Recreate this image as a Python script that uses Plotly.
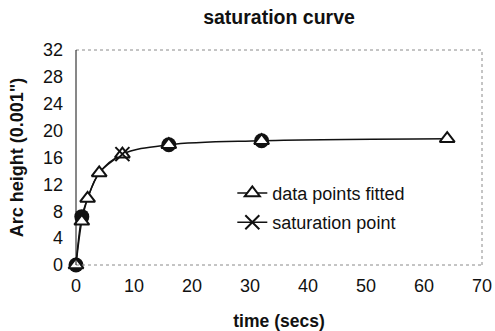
import plotly.graph_objects as go

# Data
TIME = [0, 1, 2, 4, 8, 16, 32, 64]
ARC = [0, 6.5, 9.9, 13.7, 16.5, 17.9, 18.5, 18.8]

# approach to the saturation point
SAT_PATH_X = [0, 1, 2, 4, 8]
SAT_PATH_Y = [0, 7.2, 9.9, 13.7, 16.5]
SAT_X = [8]
SAT_Y = [16.5]

# heavy (overlapping) markers seen on the scan
BLOB_X = [0, 1, 16, 32]
BLOB_Y = [0, 7.2, 17.9, 18.5]

X_TICKS = [0, 10, 20, 30, 40, 50, 60, 70]
Y_TICKS = [0, 4, 8, 12, 16, 20, 24, 28, 32]

FONT = "Liberation Sans, Arial, sans-serif"
INK = "#111111"

fig = go.Figure()

fig.add_trace(go.Scatter(
    x=SAT_PATH_X, y=SAT_PATH_Y, mode="lines",
    line=dict(color=INK, width=1.4, shape="spline"),
    showlegend=False, hoverinfo="skip", cliponaxis=False))

fig.add_trace(go.Scatter(
    x=BLOB_X, y=BLOB_Y, mode="markers",
    marker=dict(symbol="circle", size=15, color=INK),
    showlegend=False, hoverinfo="skip", cliponaxis=False))

fig.add_trace(go.Scatter(
    x=TIME, y=ARC, mode="lines+markers", name="data points fitted",
    legendgroup="a", cliponaxis=False,
    line=dict(color=INK, width=1.5, shape="spline"),
    marker=dict(symbol="triangle-up", size=13, color="white",
                line=dict(color=INK, width=2))))

fig.add_trace(go.Scatter(
    x=SAT_X, y=SAT_Y, mode="lines+markers", name="saturation point",
    legendgroup="b", cliponaxis=False,
    line=dict(color=INK, width=1.5),
    marker=dict(symbol="x-thin", size=14, color=INK,
                line=dict(color=INK, width=2))))

dotted = dict(color="#8a8a8a", width=1, dash="dot")
shapes = [
    dict(type="line", xref="paper", yref="paper", x0=0, x1=1, y0=1, y1=1, line=dotted),
    dict(type="line", xref="paper", yref="paper", x0=1, x1=1, y0=0, y1=1, line=dotted),
    dict(type="line", xref="paper", yref="paper", x0=0, x1=1, y0=0, y1=0, line=dotted),
    dict(type="line", xref="paper", yref="paper", x0=0, x1=0, y0=0, y1=1,
         line=dict(color=INK, width=1)),
]

fig.update_layout(
    width=495, height=331,
    margin=dict(l=76, r=13, t=50, b=66, autoexpand=False),
    paper_bgcolor="white", plot_bgcolor="white",
    font=dict(family=FONT, color=INK, size=18),
    title=dict(text="<b>saturation curve</b>", x=0.5, xref="paper",
               y=0.948, yref="container", yanchor="middle",
               font=dict(size=19.5, family=FONT, color=INK)),
    shapes=shapes,
    legend=dict(x=0.385, y=0.42, xanchor="left", yanchor="top",
                bgcolor="rgba(0,0,0,0)", font=dict(size=18, family=FONT, color=INK),
                tracegroupgap=3),
    xaxis=dict(range=[0, 70], tickvals=X_TICKS, ticktext=[str(v) for v in X_TICKS],
               showgrid=False, zeroline=False, showline=False, ticks="",
               ticklabelstandoff=8, ticklabeloverflow="allow", automargin=False,
               tickfont=dict(size=18, family=FONT, color=INK),
               title=dict(text="<b>time (secs)</b>", standoff=20,
                          font=dict(size=17.5, family=FONT, color=INK))),
    yaxis=dict(range=[0, 32], tickvals=Y_TICKS, ticktext=[str(v) for v in Y_TICKS],
               showgrid=False, zeroline=False, showline=False, ticks="",
               ticklabelstandoff=12, ticklabeloverflow="allow", automargin=False,
               tickfont=dict(size=18, family=FONT, color=INK),
               title=dict(text="<b>Arc height (0.001\")</b>", standoff=14,
                          font=dict(size=18, family=FONT, color=INK))),
)

fig.write_html("out.html", config={"displayModeBar": False},
               post_script="document.body.style.margin='0';")
